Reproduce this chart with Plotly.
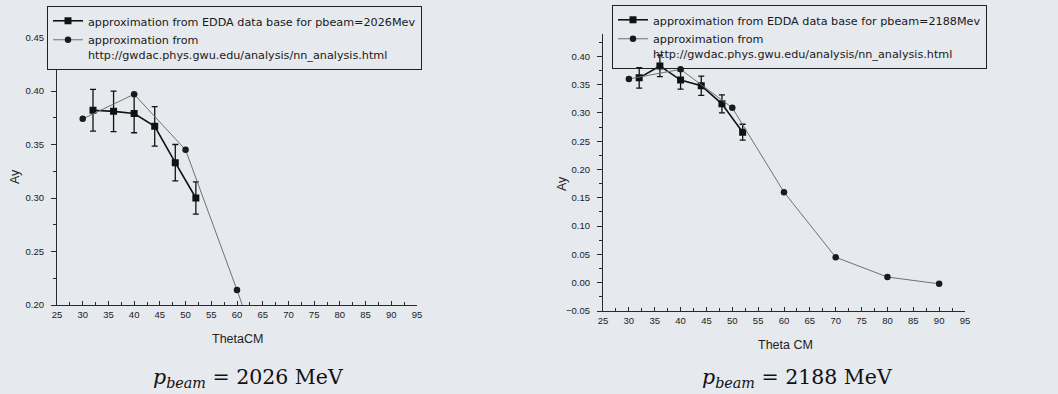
import plotly.graph_objects as go

# ---- data ----
theta_edda_l = [32, 36, 40, 44, 48, 52]
ay_edda_l = [0.382, 0.381, 0.379, 0.367, 0.333, 0.300]
err_edda_l = [0.0195, 0.019, 0.018, 0.0185, 0.017, 0.015]

theta_gwu_l = [30, 40, 50, 60, 70]
ay_gwu_l = [0.374, 0.397, 0.345, 0.214, 0.078]

theta_edda_r = [32, 36, 40, 44, 48, 52]
ay_edda_r = [0.362, 0.383, 0.358, 0.348, 0.316, 0.266]
err_edda_r = [0.018, 0.019, 0.016, 0.017, 0.016, 0.014]

theta_gwu_r = [30, 40, 50, 60, 70, 80, 90]
ay_gwu_r = [0.360, 0.377, 0.309, 0.160, 0.045, 0.010, -0.002]

name_edda_l = "approximation from EDDA data base for pbeam=2026Mev"
name_edda_r = "approximation from EDDA data base for pbeam=2188Mev"
name_gwu = "approximation from<br>http://gwdac.phys.gwu.edu/analysis/nn_analysis.html"

W, H = 1058, 394
BG = "#e6e9ee"
AX = "#2a2a2a"
SANS = "Liberation Sans, Arial, sans-serif"

fig = go.Figure()

def add_pair(xe, ye, ee, xg, yg, ename, xa, ya, leg):
    fig.add_trace(go.Scatter(
        x=xe, y=ye, mode="lines+markers", name=ename,
        line=dict(color="#111111", width=1.6),
        marker=dict(symbol="square", size=7, color="#111111"),
        error_y=dict(type="data", array=ee, color="#111111", thickness=1.3, width=3),
        xaxis=xa, yaxis=ya, legend=leg))
    fig.add_trace(go.Scatter(
        x=xg, y=yg, mode="lines+markers", name=name_gwu,
        line=dict(color="#707070", width=1.0),
        marker=dict(symbol="circle", size=6.5, color="#1a1a1a"),
        xaxis=xa, yaxis=ya, legend=leg))

add_pair(theta_edda_l, ay_edda_l, err_edda_l, theta_gwu_l, ay_gwu_l, name_edda_l, "x", "y", "legend")
add_pair(theta_edda_r, ay_edda_r, err_edda_r, theta_gwu_r, ay_gwu_r, name_edda_r, "x2", "y2", "legend2")

def xax(domain, anchor):
    return dict(domain=domain, range=[25, 95], dtick=5, tick0=25, showline=True, linecolor=AX,
                linewidth=1.2, ticks="inside", ticklen=4, tickwidth=1.2, tickcolor=AX,
                minor=dict(dtick=2.5, ticks="inside", ticklen=2.5, tickwidth=1, tickcolor=AX),
                showgrid=False, zeroline=False, automargin=False, anchor=anchor,
                tickfont=dict(family=SANS, size=9.5, color="#222222"))

def yax(domain, rng, anchor):
    return dict(domain=domain, range=rng, dtick=0.05, tick0=0, tickformat=".2f", showline=True,
                linecolor=AX, linewidth=1.2, ticks="outside", ticklen=5, tickwidth=1.2, tickcolor=AX,
                minor=dict(dtick=0.025, ticks="outside", ticklen=2.5, tickwidth=1, tickcolor=AX),
                showgrid=False, zeroline=False, automargin=False, anchor=anchor,
                ticklabelstandoff=5,
                tickfont=dict(family=SANS, size=9.5, color="#222222"))

leg_common = dict(bordercolor="#222222", borderwidth=1, itemwidth=30,
                  font=dict(family="DejaVu Sans, sans-serif", size=11.2, color="#1a1a1a"), valign="top",
                  tracegroupgap=0, xref="paper", yref="paper", xanchor="left", yanchor="top",
                  traceorder="normal")

fig.update_layout(
    width=W, height=H,
    margin=dict(l=0, r=0, t=0, b=0),
    paper_bgcolor=BG, plot_bgcolor=BG,
    showlegend=True,
    xaxis=xax([57 / W, 417 / W], "y"),
    yaxis=yax([1 - 305 / H, 1 - 24.7 / H], [0.20, 0.462], "x"),
    xaxis2=xax([603 / W, 965 / W], "y2"),
    yaxis2=yax([1 - 311 / H, 1 - 33.7 / H], [-0.05, 0.44], "x2"),
    legend=dict(**leg_common, bgcolor=BG, x=47 / W, y=1 - 6 / H),
    legend2=dict(**leg_common, bgcolor="rgba(0,0,0,0)", x=612 / W, y=1 - 5 / H),
)

ann = [
    dict(text="Ay", x=15 / W, y=1 - 177 / H, textangle=-90, font=dict(family=SANS, size=12.5, color="#222")),
    dict(text="Ay", x=562 / W, y=1 - 184 / H, textangle=-90, font=dict(family=SANS, size=12.5, color="#222")),
    dict(text="ThetaCM", x=237 / W, y=1 - 339 / H, font=dict(family=SANS, size=12.5, color="#222")),
    dict(text="Theta CM", x=785 / W, y=1 - 345 / H, font=dict(family=SANS, size=12.5, color="#222")),
    dict(text="<i>p</i><sub><i>beam</i></sub> = 2026 MeV", x=248 / W, y=1 - 378 / H,
         font=dict(family="DejaVu Serif, Liberation Serif, serif", size=20.5, color="#111")),
    dict(text="<i>p</i><sub><i>beam</i></sub> = 2188 MeV", x=797 / W, y=1 - 378 / H,
         font=dict(family="DejaVu Serif, Liberation Serif, serif", size=20.5, color="#111")),
]
for a in ann:
    fig.add_annotation(xref="paper", yref="paper", showarrow=False, xanchor="center", yanchor="middle", **a)

fig.write_html("out.html", config={"displayModeBar": False},
               post_script="document.body.style.margin='0';document.body.style.padding='0';"
                           "document.body.style.background='" + BG + "';")
